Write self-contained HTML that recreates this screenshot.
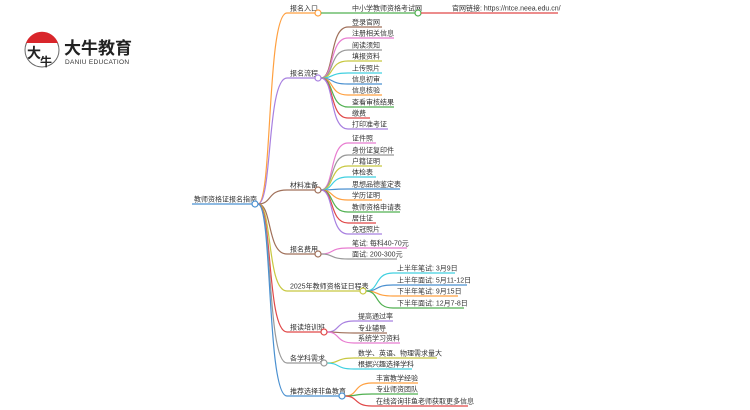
<!DOCTYPE html>
<html><head><meta charset="utf-8"><style>
body{margin:0;background:#fff;width:750px;height:410px;overflow:hidden}
svg{display:block}
text{font-family:"Liberation Sans","Noto Sans CJK SC",sans-serif;font-size:7px;fill:#333}
</style></head><body>
<svg id="s" width="750" height="410" xmlns="http://www.w3.org/2000/svg">
<g>
<circle cx="42" cy="50" r="17" fill="none" stroke="#666" stroke-width="1"/>
<path d="M26 43 A17 17 0 0 1 58 43 Z" fill="#d9262b"/>
<text x="27" y="58" style="font-size:14px;font-weight:bold;fill:#222">大</text>
<text x="40" y="66" style="font-size:12px;font-weight:bold;fill:#222">牛</text>
<text x="64" y="54" style="font-size:17px;font-weight:bold;fill:#222">大牛教育</text>
<text x="65" y="64" style="font-size:6.5px;fill:#333;letter-spacing:0.3px">DANIU EDUCATION</text>
</g>
<g id="m"></g>
</svg>
<script>
const g=document.getElementById('m');let h='';
function line(x1,y,x2,c){h+=`<line x1="${x1}" y1="${y}" x2="${x2}" y2="${y}" stroke="${c}" stroke-width="1.2"/>`}
function curve(x1,y1,x2,y2,c){h+=`<path d="M${x1} ${y1} C${x1+(x2-x1)*0.5} ${y1},${x1+(x2-x1)*0.3} ${y2},${x2} ${y2}" stroke="${c}" stroke-width="1.2" fill="none"/>`}
function txt(x,y,t){h+=`<text x="${x}" y="${y-2.5}">${t}</text>`}
function circ(x,y,c){h+=`<circle cx="${x}" cy="${y}" r="3" fill="#fff" stroke="${c}" stroke-width="1.2"/>`}
const C={br:'#a0705a',pk:'#e87cd0',gy:'#999',ol:'#c8c840',cy:'#40d0e0',bl:'#4a90d0',or:'#ffa040',gr:'#50b050',rd:'#e04848',pu:'#a880e0'};
line(192,204,255,C.bl);txt(194,204,'教师资格证报名指南');
const L1=[
 ['报名入口',13,318,C.or,[]],
 ['报名流程',78,318,C.pu,[['登录官网',27,C.br,382],['注册相关信息',38,C.pk,394],['阅读须知',50,C.gy,382],['填报资料',61,C.ol,382],['上传照片',73,C.cy,382],['信息初审',84,C.bl,382],['信息核验',95,C.or,382],['查看审核结果',107,C.gr,394],['缴费',118,C.rd,370],['打印准考证',129,C.pu,388]]],
 ['材料准备',190,318,C.br,[['证件照',143,C.pk,376],['身份证复印件',155,C.gy,394],['户籍证明',166,C.ol,382],['体检表',177,C.cy,376],['思想品德鉴定表',189,C.bl,400],['学历证明',200,C.or,382],['教师资格申请表',212,C.gr,400],['居住证',223,C.rd,376],['免冠照片',234,C.pu,382]]],
 ['报名费用',254,318,C.br,[['笔试: 每科40-70元',248,C.pk,407],['面试: 200-300元',259,C.gy,397]]],
 ['2025年教师资格证日程表',291,363,C.ol,[['上半年笔试: 3月9日',273,C.cy,455],['上半年面试: 5月11-12日',285,C.bl,467],['下半年笔试: 9月15日',296,C.or,458],['下半年面试: 12月7-8日',308,C.gr,464]]],
 ['报读培训班',332,324,C.rd,[['提高通过率',321,C.pu,393],['专业辅导',333,C.br,387],['系统学习资料',343,C.pk,400]]],
 ['各学科需求',363,324,C.gy,[['数学、英语、物理需求量大',358,C.ol,437],['根据兴趣选择学科',369,C.cy,412]]],
 ['推荐选择非鱼教育',396,342,C.bl,[['丰富教学经验',383,C.or,418],['专业师资团队',394,C.gr,418],['在线咨询非鱼老师获取更多信息',406,C.rd,468]]],
];
L1.forEach(([t,y,cx,c,ch])=>{
 curve(258,204,287,y,c);line(287,y,cx-3,c);txt(290,y,t);
 const kx=ch.length?(t.length>10?397:(cx>330?376:(cx>320?358:352))):352;
 ch.forEach(([ct,cy,cc,ex])=>{curve(cx+3,y,kx-4,cy,cc);line(kx-4,cy,ex,cc);txt(kx,cy,ct)});
 circ(cx,y,c);
});
line(321,13,415,C.gr);txt(352,13,'中小学教师资格考试网');circ(418,13,C.gr);
line(421,13,558,C.rd);txt(452,13,'官网链接: https://ntce.neea.edu.cn/');
circ(255,204,C.bl);
g.innerHTML=h;
</script>
</body></html>
